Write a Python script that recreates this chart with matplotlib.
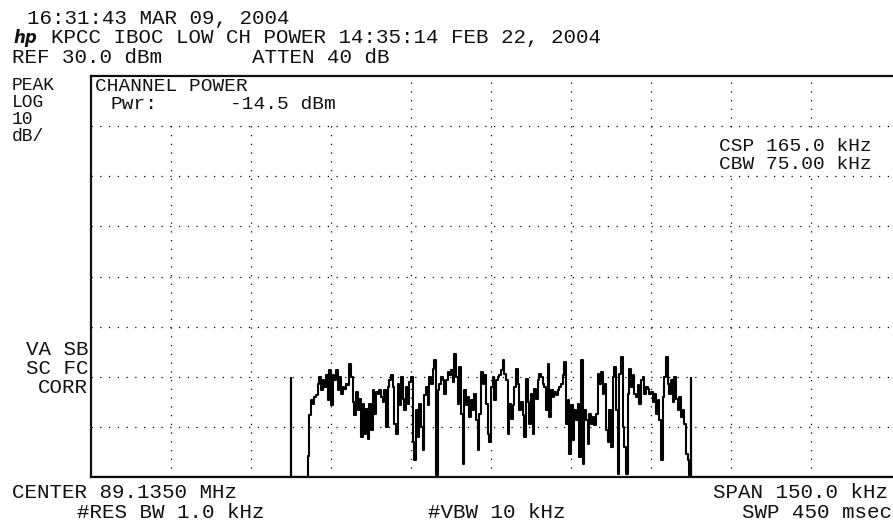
import numpy as np
import matplotlib
matplotlib.use("Agg")
import matplotlib.pyplot as plt
from matplotlib.patches import Rectangle

center_mhz = 89.1350
span_khz = 150.0
ref_dbm = 30.0
db_per_div = 10.0
n_ydiv = 8
n_xdiv = 10
channel_bw_khz = 75.0
channel_pwr_dbm = -14.5
floor_dbm = -50.0
marker_dbm = -30.0

trace_start_khz = -34.56
trace_step_khz = 0.3125

seg1 = [-50.0, -45.8, -37.7, -34.7, -35.4, -34.0, -33.7, -31.4, -30.1, -32.7,
        -30.7, -32.1, -29.7, -34.7, -28.7, -35.7, -29.7, -30.7, -28.7, -32.7,
        -30.1, -33.4, -32.1, -32.4, -31.4, -31.7, -27.4, -30.1, -35.1, -37.7,
        -33.1, -36.7, -34.4, -42.1, -35.4, -41.4, -36.4, -42.4, -35.4, -40.7,
        -32.7, -37.4, -33.1, -33.4, -32.7, -34.1, -35.1, -32.7, -40.1, -32.1]
seg2 = [-30.7, -29.7, -32.1, -39.4, -41.4, -31.4, -35.7, -30.1, -34.4, -36.7,
        -32.1, -35.4, -31.1, -30.1, -43.1, -46.7, -36.7, -42.1, -35.4, -40.1,
        -44.7, -33.7, -32.1, -35.7, -30.1, -31.4, -28.4, -26.7, -49.7, -32.7,
        -31.4, -30.1, -30.7, -33.4, -30.7, -29.1, -29.7, -28.7, -31.1, -25.4,
        -30.1, -35.4, -28.1, -37.4, -47.4, -32.7, -35.7, -34.1, -38.1, -34.7,
        -36.7, -33.4, -38.7, -44.7, -37.4, -29.1, -31.4, -29.7, -35.4, -41.4,
        -43.1, -32.1, -30.1]
seg3 = [-34.7, -30.7, -30.1, -29.7, -28.7, -26.7, -29.4, -30.7, -41.4, -35.4,
        -38.4, -35.7, -32.1, -28.4, -31.4, -36.7, -35.1, -37.7, -42.1, -30.4,
        -35.1, -39.4, -33.4, -41.4, -32.4, -34.4, -30.7, -29.4, -30.1, -31.4,
        -32.1, -36.7, -27.4, -38.1, -32.7, -34.1, -33.1, -33.7, -32.7, -32.1,
        -31.4, -29.7, -27.1, -39.4, -34.7, -45.4, -35.7, -42.7, -36.7, -38.7,
        -35.4, -46.1, -26.7, -47.4, -36.7, -38.7, -43.4, -37.4, -39.4, -38.1,
        -39.7, -37.4, -29.4]
seg4 = [-31.4, -29.1, -33.4, -31.4, -40.7, -43.1, -36.7, -44.1, -30.1, -28.1,
        -36.7, -49.4, -29.4, -26.1, -40.1, -44.1, -49.4, -33.4, -28.4, -32.1,
        -29.7, -33.4, -34.1, -31.7, -35.4, -30.7, -30.1, -33.4, -32.1, -32.4,
        -33.4, -33.1, -35.1, -33.4, -37.4, -34.7, -38.7, -46.7, -34.1, -30.1,
        -26.1, -31.4, -33.4, -30.7, -35.1, -30.1, -34.4, -36.7, -34.1, -38.1,
        -36.7, -39.4, -45.4, -46.7, -49.7]
trace_dbm = seg1 + seg2 + seg3 + seg4

header_lines = ["16:31:43 MAR 09, 2004",
                "KPCC IBOC LOW CH POWER 14:35:14 FEB 22, 2004"]
ref_text = "REF 30.0 dBm"
atten_text = "ATTEN 40 dB"
left_top = ["PEAK", "LOG", "10", "dB/"]
left_bottom = ["VA SB", "SC FC", "CORR"]
center_text = "CENTER 89.1350 MHz"
span_text = "SPAN 150.0 kHz"
rbw_text = "#RES BW 1.0 kHz"
vbw_text = "#VBW 10 kHz"
swp_text = "SWP 450 msec"
csp_text = "CSP 165.0 kHz"
cbw_text = "CBW 75.00 kHz"

# ---------------- figure ----------------
W, H = 893, 522
fig = plt.figure(figsize=(W / 100, H / 100), dpi=100)
fig.patch.set_facecolor("white")

ax = fig.add_axes([91 / W, 1 - 477 / H, 802 / W, 401 / H])
half = span_khz / 2
bottom_dbm = ref_dbm - db_per_div * n_ydiv
ax.set_xlim(-half, half + span_khz * 2 / 800)
ax.set_ylim(bottom_dbm, ref_dbm)
ax.set_xticks(np.linspace(-half, half, n_xdiv + 1)[1:-1])
ax.set_yticks(np.linspace(bottom_dbm, ref_dbm, n_ydiv + 1)[1:-1])
ax.tick_params(length=0, labelbottom=False, labelleft=False)
ax.grid(True, color="black", lw=0.9, linestyle=(0, (1, 6)))
for side in ["top", "left", "bottom"]:
    ax.spines[side].set_linewidth(1.6)
    ax.spines[side].set_color("#111111")
ax.spines["right"].set_visible(False)

# white backgrounds behind in-graticule annotations
ax.add_patch(Rectangle((-half, 21.2), 54.2, 30 - 21.2, facecolor="white",
                       edgecolor="none", zorder=2))
ax.add_patch(Rectangle((31.7, 10.5), half + 1 - 31.7, 19.2 - 10.5, facecolor="white",
                       edgecolor="none", zorder=2))

freq = trace_start_khz + trace_step_khz * np.arange(len(trace_dbm))
freq_full = np.concatenate([[-half, freq[0] - trace_step_khz], freq,
                            [freq[-1] + trace_step_khz, half + 1]])
dbm_full = np.concatenate([[floor_dbm, floor_dbm], trace_dbm,
                           [floor_dbm, floor_dbm]])
ax.plot(freq_full, dbm_full, color="black", lw=1.5, zorder=3, clip_on=True,
        drawstyle="steps-mid")
ax.vlines([-channel_bw_khz / 2, channel_bw_khz / 2], floor_dbm, marker_dbm,
          color="black", lw=1.6, zorder=3)

FAM = ["Liberation Mono", "DejaVu Sans Mono"]


def ftext(x, y, s, ha="left", fs=15, **kw):
    fig.text(x / W, 1 - y / H, s, ha=ha, va="baseline", fontsize=fs,
             family=FAM, color="#111111", zorder=5, **kw)


ftext(27, 24, header_lines[0])
fig.text(13 / W, 1 - 43 / H, "hp", ha="left", va="baseline", fontsize=12,
         style="italic", fontweight="bold", family="DejaVu Sans", color="#111111")
ftext(51, 43, header_lines[1])
ftext(12, 63, ref_text)
ftext(252, 63, atten_text)

for i, s in enumerate(left_top):
    ftext(12, 90 + 17 * i, s, fs=13)
for i, s in enumerate(left_bottom):
    ftext(88, 355 + 19 * i, s, ha="right")

ftext(95, 91, "CHANNEL POWER", fs=14)
ftext(110, 109, "Pwr:", fs=14)
ftext(230, 109, f"{channel_pwr_dbm:.1f} dBm", fs=14)
ftext(872, 151, csp_text, ha="right", fs=14)
ftext(872, 169, cbw_text, ha="right", fs=14)

ftext(12, 498, center_text)
ftext(888, 498, span_text, ha="right")
ftext(77, 518, rbw_text)
ftext(497, 518, vbw_text, ha="center")
ftext(892, 518, swp_text, ha="right")

fig.savefig("out.png", dpi=100)
